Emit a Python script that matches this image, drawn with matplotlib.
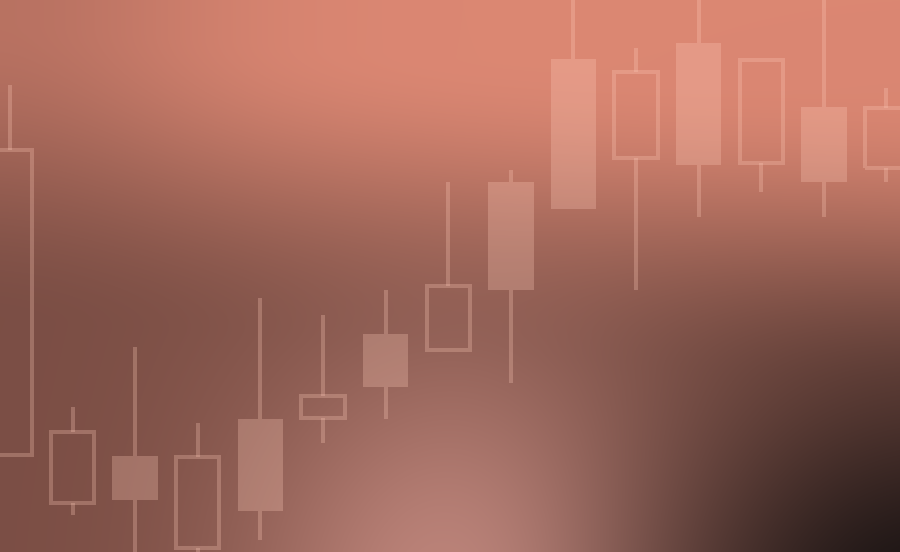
import numpy as np
import matplotlib
matplotlib.use("Agg")
import matplotlib.pyplot as plt

# candle data (price units, screen height 552)
highs   = [467, 145, 205, 129, 254, 237, 262, 370, 382, 560, 504, 560, 492, 560, 464]
tops    = [402, 120,  96,  95, 133, 156, 218, 266, 370, 493, 480, 509, 492, 445, 444]
bottoms = [ 97,  49,  52,   4,  41, 134, 165, 202, 262, 343, 394, 387, 389, 370, 384]
lows    = [ 97,  37, -10,  -5,  12, 109, 133, 202, 169, 343, 262, 335, 360, 335, 370]
filled  = [False, False, True, False, True, False, True, False, True, True,
           False, True, False, True, False]

W, H = 900, 552

# background glow
yy, xx = np.mgrid[0:H, 0:W].astype(float)
top_col = np.array([0.86, 0.53, 0.45])
mid_col = np.array([0.50, 0.32, 0.28])
y0 = 20 + 0.08 * xx
t = np.clip((yy - y0) / 300.0, 0, 1)
t = t * t * (3 - 2 * t)
img = top_col * (1 - t[..., None]) + mid_col * t[..., None]

# darker left edge
left = np.exp(-(xx / 210.0) ** 2) * 0.33
img = img * (1 - left[..., None]) + np.array([0.45, 0.28, 0.25]) * left[..., None]

# light pink glow at bottom centre
pink = 0.85 * np.exp(-(((xx - 470) / 150.0) ** 2 + ((yy - 600) / 170.0) ** 2) / 2)
img = img * (1 - pink[..., None]) + np.array([0.82, 0.58, 0.54]) * pink[..., None]

# dark shadow bottom right
dark = np.exp(-(((xx - 940) / 200.0) ** 2 + ((yy - 620) / 170.0) ** 2) / 2)
img = img * (1 - dark[..., None]) + np.array([0.09, 0.07, 0.07]) * dark[..., None]
img = np.clip(img, 0, 1)

fig = plt.figure(figsize=(9, 5.52), dpi=100)
ax = fig.add_axes([0, 0, 1, 1])
step = 62.6
x0 = -10 / step
x1 = (W - 10) / step
ax.imshow(img, extent=[x0, x1, 0, H], aspect="auto", zorder=0)

c = (1.0, 0.80, 0.73, 0.28)
lw = 2.9
bw = 0.69
xs = np.arange(len(highs))
for i in xs:
    ax.vlines(i, tops[i], highs[i], color=c, lw=lw, zorder=2)
    ax.vlines(i, lows[i], bottoms[i], color=c, lw=lw, zorder=2)
    if filled[i]:
        ax.bar(i, tops[i] - bottoms[i], bottom=bottoms[i], width=bw + 0.04,
               color=c, linewidth=0, zorder=2)
    else:
        ax.bar(i, tops[i] - bottoms[i], bottom=bottoms[i], width=bw,
               fill=False, edgecolor=c, linewidth=lw, zorder=2)

ax.set_xlim(x0, x1)
ax.set_ylim(0, H)
ax.axis("off")
fig.savefig("out.png", dpi=100)
